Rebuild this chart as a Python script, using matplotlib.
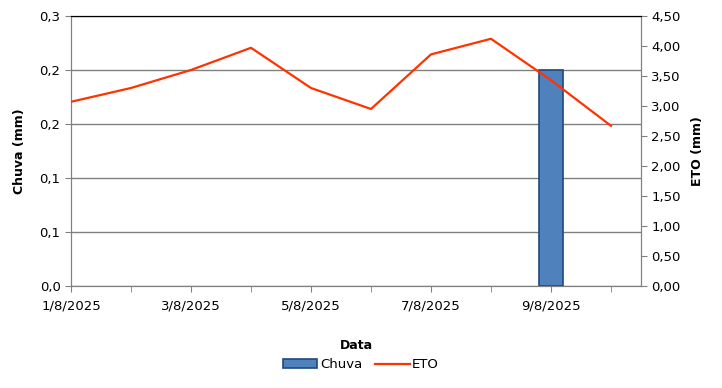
import numpy as np
import matplotlib
matplotlib.use("Agg")
import matplotlib.pyplot as plt
from matplotlib.patches import Patch
from matplotlib.ticker import FuncFormatter, MultipleLocator

# Dados
datas = ['1/8/2025', '2/8/2025', '3/8/2025', '4/8/2025', '5/8/2025',
         '6/8/2025', '7/8/2025', '8/8/2025', '9/8/2025', '10/8/2025']
chuva = [0, 0, 0, 0, 0, 0, 0, 0, 0.24, 0]
eto = [3.07, 3.30, 3.60, 3.97, 3.30, 2.95, 3.86, 4.12, 3.43, 2.67]

plt.rcParams['font.family'] = ['DejaVu Sans']
cinza = '#808080'
azul = '#4f81bd'
azul_borda = '#1f497d'

fig = plt.figure(figsize=(7.22, 3.88), dpi=100)
ax = fig.add_axes([0.0983, 0.2629, 0.7895, 0.6959])
ax2 = ax.twinx()

x = np.arange(len(datas))

# sem contorno nas barras de valor zero
bordas = [1.2 if v > 0 else 0 for v in chuva]
ax.bar(x, chuva, width=0.4, color=azul, edgecolor=azul_borda,
       linewidth=bordas, zorder=3)
linha, = ax2.plot(x, eto, color='#ff3300', linewidth=1.6, label='ETO', zorder=4)

# Eixo esquerdo
ax.set_ylim(0, 0.3)
ax.set_yticks(np.linspace(0, 0.3, 6))
ax.yaxis.set_major_formatter(FuncFormatter(lambda v, p: f'{v:.1f}'.replace('.', ',')))
ax.grid(axis='y', color=cinza, linewidth=1, zorder=0)
ax.set_axisbelow(True)

# Eixo direito
ax2.set_ylim(0, 4.5)
ax2.yaxis.set_major_locator(MultipleLocator(0.5))
ax2.yaxis.set_major_formatter(FuncFormatter(lambda v, p: f'{v:.2f}'.replace('.', ',')))

# Eixo x
ax.set_xlim(0, 9.5)
ax.set_xticks(x[::2])
ax.set_xticklabels(datas[::2])
ax.set_xticks(x, minor=True)

for a in (ax, ax2):
    for lado in ('left', 'right', 'bottom'):
        a.spines[lado].set_color(cinza)
    a.spines['top'].set_color('black')
    a.tick_params(colors=cinza, labelcolor='black', labelsize=9.5, length=4)
    a.tick_params(which='minor', colors=cinza, length=4)
ax.tick_params(axis='x', pad=6)

ax.set_ylabel('Chuva (mm)', fontsize=9, fontweight='bold', labelpad=10)
ax2.set_ylabel('ETO (mm)', fontsize=9, fontweight='bold', labelpad=7)
ax.set_xlabel('Data', fontsize=9, fontweight='bold', labelpad=19)

patch_chuva = Patch(facecolor=azul, edgecolor=azul_borda, linewidth=1.2, label='Chuva')
fig.legend(handles=[patch_chuva, linha], labels=['Chuva', 'ETO'], loc='center',
           bbox_to_anchor=(0.50, 0.06), ncol=2, frameon=False, fontsize=9.5,
           handlelength=2.6, handletextpad=0.2, columnspacing=1.0)

fig.savefig('out.png', dpi=100)
